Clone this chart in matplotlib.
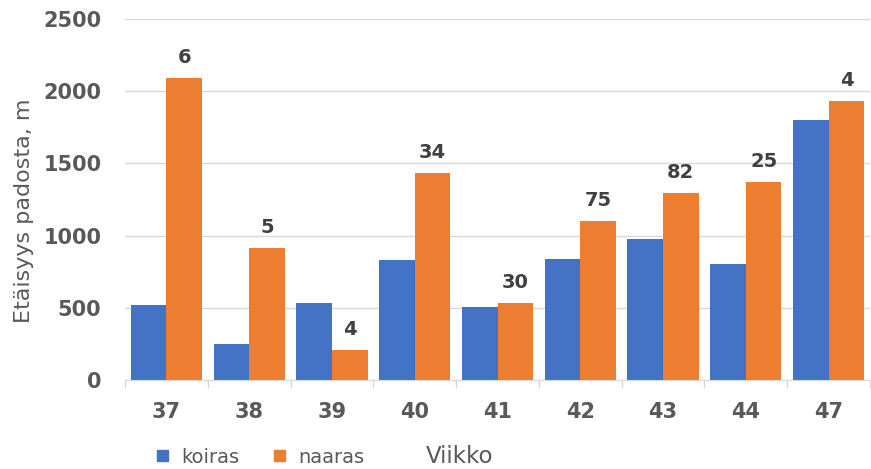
import matplotlib
matplotlib.use("Agg")
import matplotlib.pyplot as plt
import numpy as np
from matplotlib.patches import Patch

weeks = ["37", "38", "39", "40", "41", "42", "43", "44", "47"]
koiras = [520, 250, 530, 830, 505, 837, 976, 805, 1798]
naaras = [2090, 915, 206, 1433, 530, 1100, 1293, 1368, 1932]
n_naaras = [6, 5, 4, 34, 30, 75, 82, 25, 4]
yticks = [0, 500, 1000, 1500, 2000, 2500]

blue = "#4472C4"
orange = "#ED7D31"
tick_col = "#595959"
lab_col = "#404040"

fig = plt.figure(figsize=(8.71, 4.69), dpi=100)
ax = fig.add_axes([125/871, 1-380/469, 745/871, (380-19)/469])

x = np.arange(len(weeks))
w = 0.43
ax.bar(x - w/2, koiras, width=w, color=blue, zorder=2)
ax.bar(x + w/2, naaras, width=w, color=orange, zorder=2)

for xi, v, n in zip(x, naaras, n_naaras):
    ax.annotate(str(n), (xi + w/2, v), xytext=(0, 8), textcoords="offset points",
                ha="center", va="bottom", fontsize=14, fontweight="bold",
                color=lab_col, family="DejaVu Sans")

ax.set_xlim(-0.5, len(weeks) - 0.5)
ax.set_ylim(0, 2500)
ax.set_yticks(yticks)
ax.set_yticklabels([str(t) for t in yticks], fontsize=15, fontweight="bold", color=tick_col)
ax.set_xticks(x)
ax.set_xticklabels(weeks, fontsize=15, fontweight="bold", color=tick_col)
ax.tick_params(axis="x", which="major", length=0, pad=16)
ax.set_xticks(np.arange(-0.5, len(weeks)), minor=True)
ax.tick_params(axis="x", which="minor", length=6, color="#d9d9d9", width=1)
ax.tick_params(axis="y", length=0, pad=17)

ax.grid(axis="y", color="#d9d9d9", linewidth=1, zorder=0)
for s in ["top", "right", "left"]:
    ax.spines[s].set_visible(False)
ax.spines["bottom"].set_color("#d9d9d9")

ax.set_ylabel("Etäisyys padosta, m", fontsize=16, color=tick_col)
ax.yaxis.set_label_coords(-0.122, 0.47)

fig.text(460/871, 1-456/469, "Viikko", fontsize=16.5, color=tick_col, ha="center", va="center")

handles = [Patch(color=blue, label="koiras"), Patch(color=orange, label="naaras")]
fig.legend(handles=handles, loc="center left", bbox_to_anchor=(151/871, 1-457/469),
           ncol=2, frameon=False, fontsize=14, labelcolor=tick_col,
           handlelength=0.55, handleheight=0.55, handletextpad=0.7, columnspacing=1.8,
           borderaxespad=0, borderpad=0.3)

fig.savefig("out.png", dpi=100)
